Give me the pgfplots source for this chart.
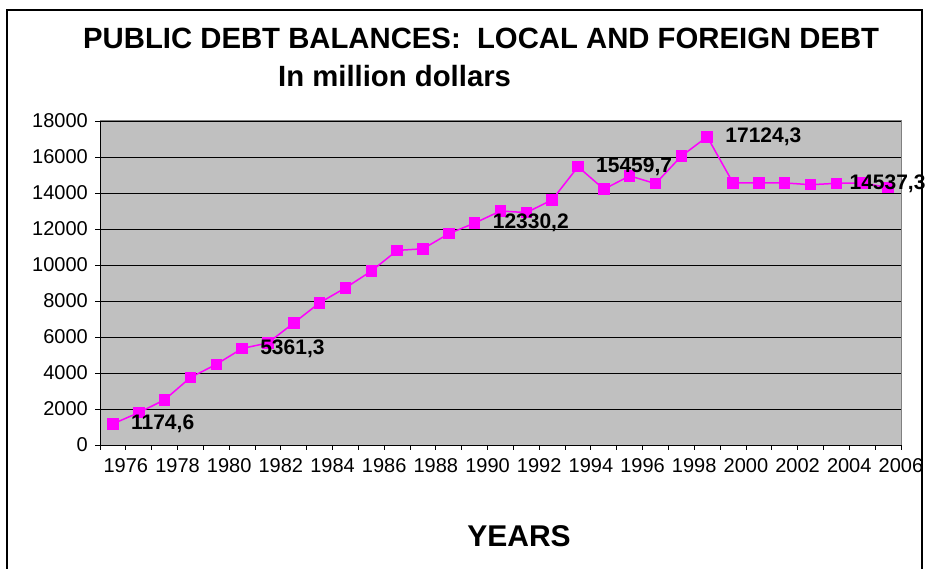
\documentclass[border=0pt]{standalone}
\usepackage{pgfplots}
\pgfplotsset{compat=1.18}
\usepackage{fontspec}
\setmainfont{Liberation Sans}
\definecolor{plotgray}{RGB}{192,192,192}
\definecolor{bordergray}{RGB}{128,128,128}
\definecolor{mag}{RGB}{255,0,255}
\begin{document}
\begin{tikzpicture}
\useasboundingbox (0pt,0pt) rectangle (927pt,569pt);
\fill[white] (0pt,0pt) rectangle (927pt,569pt);
\begin{axis}[
  at={(100pt,124pt)}, anchor=south west,
  scale only axis, width=801pt, height=324pt,
  clip=false,
  xmin=1975.5, xmax=2006.5,
  ymin=0, ymax=18000,
  scaled y ticks=false,
  axis x line*=bottom, axis y line*=left,
  axis line style={black, line width=0.9pt, -},
  axis background/.style={fill=plotgray},
  xtick={1975.5,1976.5,...,2006.5},
  xticklabels={,1976,,1978,,1980,,1982,,1984,,1986,,1988,,1990,,1992,,1994,,1996,,1998,,2000,,2002,,2004,,2006},
  ytick={0,2000,...,18000},
  ymajorgrids,
  grid style={black, line width=0.7pt},
  tick align=outside,
  major tick length=5pt,
  tick style={black, line width=0.8pt},
  /pgf/number format/.cd, 1000 sep={}, fixed, assume math mode=true,
  /pgfplots/.cd,
  ticklabel style={font=\fontsize{20}{24}\selectfont, inner sep=0pt},
  yticklabel style={anchor=east, xshift=-7pt},
  xticklabel style={anchor=north, yshift=-8pt},
]
\draw[bordergray, line width=1pt] (rel axis cs:0,1) -- (rel axis cs:1,1) -- (rel axis cs:1,0);
\addplot[color=mag, line width=1.5pt, mark=square*, mark size=5pt, mark options={fill=mag, draw=mag}] table {
x y
1976 1174.6
1977 1800
1978 2510
1979 3750
1980 4480
1981 5361.3
1982 5670
1983 6780
1984 7900
1985 8730
1986 9660
1987 10810
1988 10900
1989 11740
1990 12330.2
1991 13000
1992 12910
1993 13620
1994 15459.7
1995 14210
1996 14950
1997 14520
1998 16050
1999 17124.3
2000 14560
2001 14560
2002 14560
2003 14460
2004 14537.3
2005 14560
2006 14300
};
\addplot[draw=none, mark=none, nodes near coords, point meta=explicit symbolic,
  nodes near coords align=horizontal,
  every node near coord/.append style={anchor=west, xshift=18pt, inner sep=0pt, text=black, font=\bfseries\fontsize{21}{25}\selectfont}]
  table[meta=label] {
x y label
1976 1174.6 1174,6
1981 5361.3 5361,3
1990 12330.2 12330,2
1994 15459.7 15459,7
1999 17124.3 17124,3
};
\addplot[draw=none, mark=none, nodes near coords, point meta=explicit symbolic,
  nodes near coords align=horizontal,
  every node near coord/.append style={anchor=west, xshift=13pt, inner sep=0pt, text=black, font=\bfseries\fontsize{21}{25}\selectfont}]
  table[meta=label] {
x y label
2004 14537.3 14537,3
};
\end{axis}
\draw[black, line width=1.2pt] (7pt,-5pt) -- (7pt,559pt) -- (922pt,559pt) -- (922pt,-5pt);
\node[anchor=base west, inner sep=0pt, font=\bfseries\fontsize{29.3}{34}\selectfont] at (83pt,520.7pt) {PUBLIC DEBT BALANCES:\ \ LOCAL AND FOREIGN DEBT};
\node[anchor=base west, inner sep=0pt, font=\bfseries\fontsize{29.3}{34}\selectfont] at (278pt,482.3pt) {In million dollars};
\node[anchor=base, inner sep=0pt, font=\bfseries\fontsize{30}{36}\selectfont] at (519pt,22.3pt) {YEARS};
\end{tikzpicture}
\end{document}
